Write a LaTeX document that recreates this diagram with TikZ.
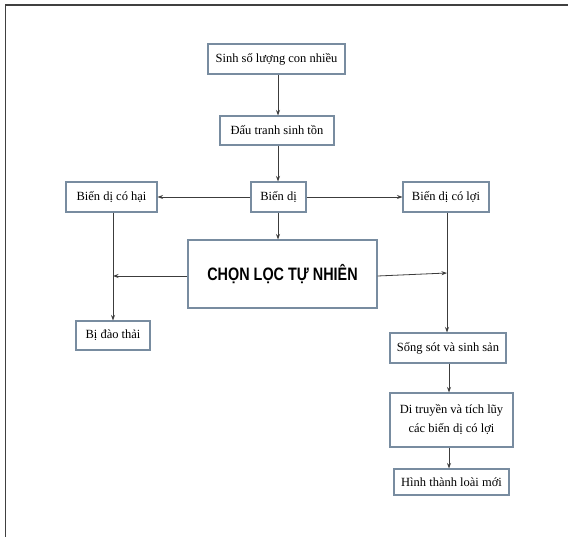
\documentclass[tikz,border=0pt]{standalone}
\usepackage{fontspec}
\setmainfont{Liberation Serif}
\newfontfamily\titlefont[FakeStretch=0.8]{Liberation Sans}
\usetikzlibrary{arrows.meta,shadows}
\definecolor{boxline}{RGB}{120,140,160}
\definecolor{boxshadow}{RGB}{90,120,175}
\definecolor{arrowcol}{RGB}{60,60,60}
\tikzset{
  fbox/.style={draw=boxline, line width=1.1pt, fill=white, inner sep=0pt, align=center,
    font=\fontsize{12.5}{14}\selectfont,
    general shadow={fill=boxshadow, shadow xshift=0.4pt, shadow yshift=-1.2pt}},
  conn/.style={draw=arrowcol, line width=0.8pt, -{Stealth[length=5.5pt,width=4pt]}},
  frameline/.style={draw=black!75, line width=1.3pt}
}
\begin{document}
\begin{tikzpicture}[x=1pt,y=-1pt]
\useasboundingbox (0,0) rectangle (568,537);
\fill[white] (0,0) rectangle (568,537);
\draw[frameline] (5.5,537) -- (5.5,5) -- (568,5);

\node[fbox, minimum width=137pt, minimum height=30pt] (sinh) at (276.5,59) {Sinh số lượng con nhiều};
\node[fbox, minimum width=114pt, minimum height=29pt] (dau) at (277,130.5) {Đấu tranh sinh tồn};
\node[fbox, minimum width=55pt, minimum height=30pt] (bd) at (278.5,197) {Biến dị};
\node[fbox, minimum width=91pt, minimum height=30pt] (hai) at (111.5,197) {Biến dị có hại};
\node[fbox, minimum width=86pt, minimum height=30pt] (loi) at (446,197) {Biến dị có lợi};
\node[fbox, minimum width=189pt, minimum height=68pt, font=\titlefont\bfseries\fontsize{18}{20}\selectfont] (chon) at (282.5,274) {CHỌN LỌC TỰ NHIÊN};
\node[fbox, minimum width=74pt, minimum height=29pt] (thai) at (113,335.5) {Bị đào thải};
\node[fbox, minimum width=116pt, minimum height=30pt] (song) at (448,348) {Sống sót và sinh sản};
\node[fbox, minimum width=123pt, minimum height=54pt, font=\fontsize{12.5}{19}\selectfont] (ditr) at (451.5,420) {Di truyền và tích lũy\\các biến dị có lợi};
\node[fbox, minimum width=115pt, minimum height=26pt] (hinh) at (451.5,482) {Hình thành loài mới};

\coordinate (lj) at (113,276);
\coordinate (rj) at (447,273);

\draw[conn] (sinh.south -| 278,0) -- (dau.north -| 278,0);
\draw[conn] (dau.south -| 278,0) -- (bd.north -| 278,0);
\draw[conn] (bd.west) -- (hai.east);
\draw[conn] (bd.east) -- (loi.west);
\draw[conn] (bd.south -| 278,0) -- (chon.north -| 278,0);
\draw[conn] (hai.south -| 113,0) -- (thai.north -| 113,0);
\draw[conn] (chon.west |- lj) -- (lj);
\draw[conn] (chon.east |- 0,276) -- (rj);
\draw[conn] (loi.south -| 447,0) -- (song.north -| 447,0);
\draw[conn] (song.south -| 449,0) -- (ditr.north -| 449,0);
\draw[conn] (ditr.south -| 449,0) -- (hinh.north -| 449,0);
\end{tikzpicture}
\end{document}
